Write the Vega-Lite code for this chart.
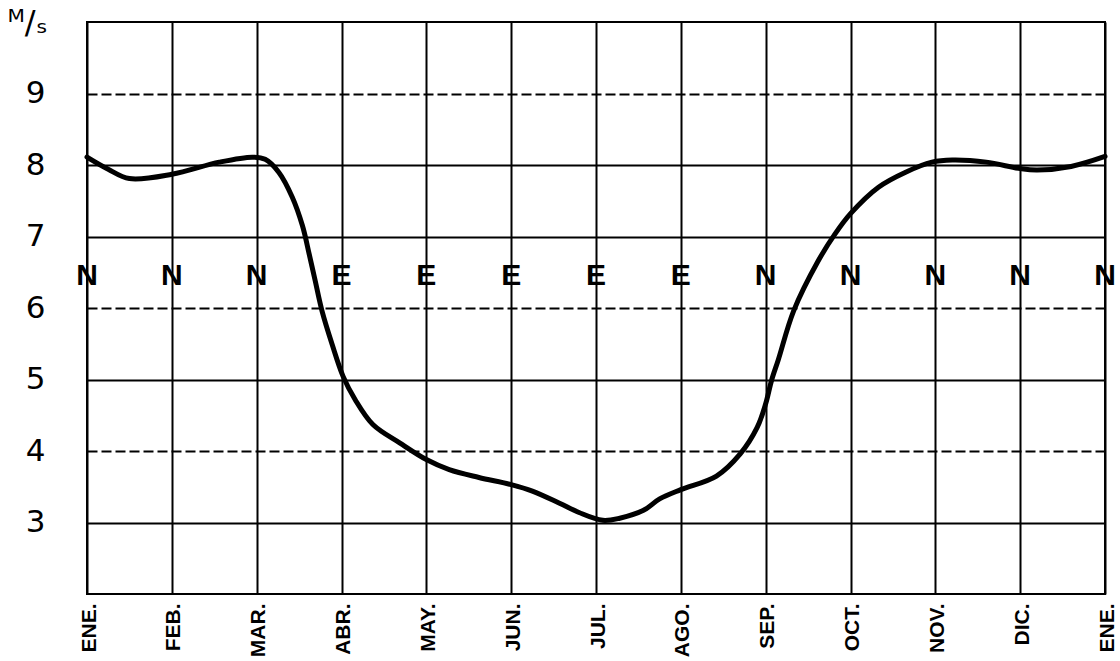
{
  "$schema": "https://vega.github.io/schema/vega-lite/v6.json",
  "width": 1018,
  "height": 572,
  "autosize": {"type": "none"},
  "padding": {"left": 87, "top": 22, "right": 15, "bottom": 67},
  "background": "white",
  "config": {
    "view": {"stroke": "black", "strokeWidth": 2},
    "font": "Liberation Sans"
  },
  "datasets": {
    "wind": [
      {"month": 0, "speed": 8.11},
      {"month": 0.25, "speed": 7.94},
      {"month": 0.5, "speed": 7.81},
      {"month": 1.0, "speed": 7.87},
      {"month": 1.56, "speed": 8.04},
      {"month": 1.95, "speed": 8.11},
      {"month": 2.1, "speed": 8.08},
      {"month": 2.26, "speed": 7.9},
      {"month": 2.42, "speed": 7.55},
      {"month": 2.54, "speed": 7.15},
      {"month": 2.62, "speed": 6.75},
      {"month": 2.69, "speed": 6.38},
      {"month": 2.77, "speed": 5.96},
      {"month": 2.89, "speed": 5.49},
      {"month": 3.02, "speed": 5.04},
      {"month": 3.16, "speed": 4.72},
      {"month": 3.37, "speed": 4.37},
      {"month": 3.69, "speed": 4.11},
      {"month": 4.0, "speed": 3.88},
      {"month": 4.27, "speed": 3.74},
      {"month": 4.62, "speed": 3.63},
      {"month": 5.0, "speed": 3.53},
      {"month": 5.25, "speed": 3.44},
      {"month": 5.57, "speed": 3.27},
      {"month": 5.8, "speed": 3.14},
      {"month": 6.08, "speed": 3.03},
      {"month": 6.28, "speed": 3.06},
      {"month": 6.56, "speed": 3.17},
      {"month": 6.75, "speed": 3.33},
      {"month": 7.0, "speed": 3.46},
      {"month": 7.42, "speed": 3.65},
      {"month": 7.7, "speed": 3.96},
      {"month": 7.9, "speed": 4.33},
      {"month": 8.0, "speed": 4.66},
      {"month": 8.07, "speed": 4.99},
      {"month": 8.15, "speed": 5.28},
      {"month": 8.33, "speed": 5.96},
      {"month": 8.62, "speed": 6.66},
      {"month": 8.82, "speed": 7.04},
      {"month": 9.0, "speed": 7.32},
      {"month": 9.33, "speed": 7.69},
      {"month": 9.65, "speed": 7.9},
      {"month": 9.96, "speed": 8.04},
      {"month": 10.2, "speed": 8.07},
      {"month": 10.6, "speed": 8.04},
      {"month": 11.0, "speed": 7.95},
      {"month": 11.2, "speed": 7.93},
      {"month": 11.6, "speed": 7.98},
      {"month": 12.0, "speed": 8.12}
    ],
    "dirs": [
      {"month": 0, "dir": "N"},
      {"month": 1, "dir": "N"},
      {"month": 2, "dir": "N"},
      {"month": 3, "dir": "E"},
      {"month": 4, "dir": "E"},
      {"month": 5, "dir": "E"},
      {"month": 6, "dir": "E"},
      {"month": 7, "dir": "E"},
      {"month": 8, "dir": "N"},
      {"month": 9, "dir": "N"},
      {"month": 10, "dir": "N"},
      {"month": 11, "dir": "N"},
      {"month": 12, "dir": "N"}
    ]
  },
  "layer": [
    {
      "data": {"name": "wind"},
      "mark": {"type": "line", "color": "black", "strokeWidth": 5, "interpolate": "catmull-rom", "strokeCap": "round"},
      "encoding": {
        "x": {
          "field": "month", "type": "quantitative",
          "scale": {"domain": [0, 12], "nice": false, "zero": false},
          "axis": {
            "values": [0,1,2,3,4,5,6,7,8,9,10,11,12],
            "labelExpr": "['ENE.','FEB.','MAR.','ABR.','MAY.','JUN.','JUL.','AGO.','SEP.','OCT.','NOV.','DIC.','ENE.'][datum.value]",
            "labelAngle": -90,
            "labelAlign": "right",
            "labelBaseline": "middle",
            "labelFontSize": 21,
            "labelFontWeight": "bold",
            "labelColor": "black",
            "labelPadding": 9,
            "labelOffset": 2,
            "labelFlush": false,
            "labelOverlap": false,
            "ticks": false,
            "domain": false,
            "grid": true,
            "gridColor": "black",
            "gridWidth": 2,
            "gridOpacity": 1,
            "title": null
          }
        },
        "y": {
          "field": "speed", "type": "quantitative",
          "scale": {"domain": [2, 10], "nice": false, "zero": false},
          "axis": {
            "values": [3,4,5,6,7,8,9],
            "format": "d",
            "labelFontSize": 31,
            "labelColor": "black",
            "labelAlign": "center",
            "labelBaseline": "middle",
            "labelPadding": 52,
            "labelFont": "DejaVu Sans",
            "labelFontWeight": "normal",
            "ticks": false,
            "domain": false,
            "grid": true,
            "gridColor": "black",
            "gridWidth": 2,
            "gridOpacity": 1,
            "gridDash": {"condition": {"test": "datum.value === 9 || datum.value === 6 || datum.value === 4", "value": [10, 4]}, "value": []},
            "title": "ᴹ/ₛ",
            "titleAngle": 0,
            "titleFont": "DejaVu Sans",
            "titleFontSize": 32,
            "titleFontWeight": "normal",
            "titleColor": "black",
            "titleAlign": "center",
            "titleBaseline": "middle",
            "titleX": -60,
            "titleY": 0
          }
        }
      }
    },
    {
      "data": {"name": "dirs"},
      "mark": {"type": "text", "color": "black", "fontSize": 30, "font": "Liberation Sans", "fontWeight": "bold", "align": "center", "baseline": "middle"},
      "encoding": {
        "x": {"field": "month", "type": "quantitative"},
        "y": {"datum": 6.45},
        "text": {"field": "dir"}
      }
    }
  ]
}
